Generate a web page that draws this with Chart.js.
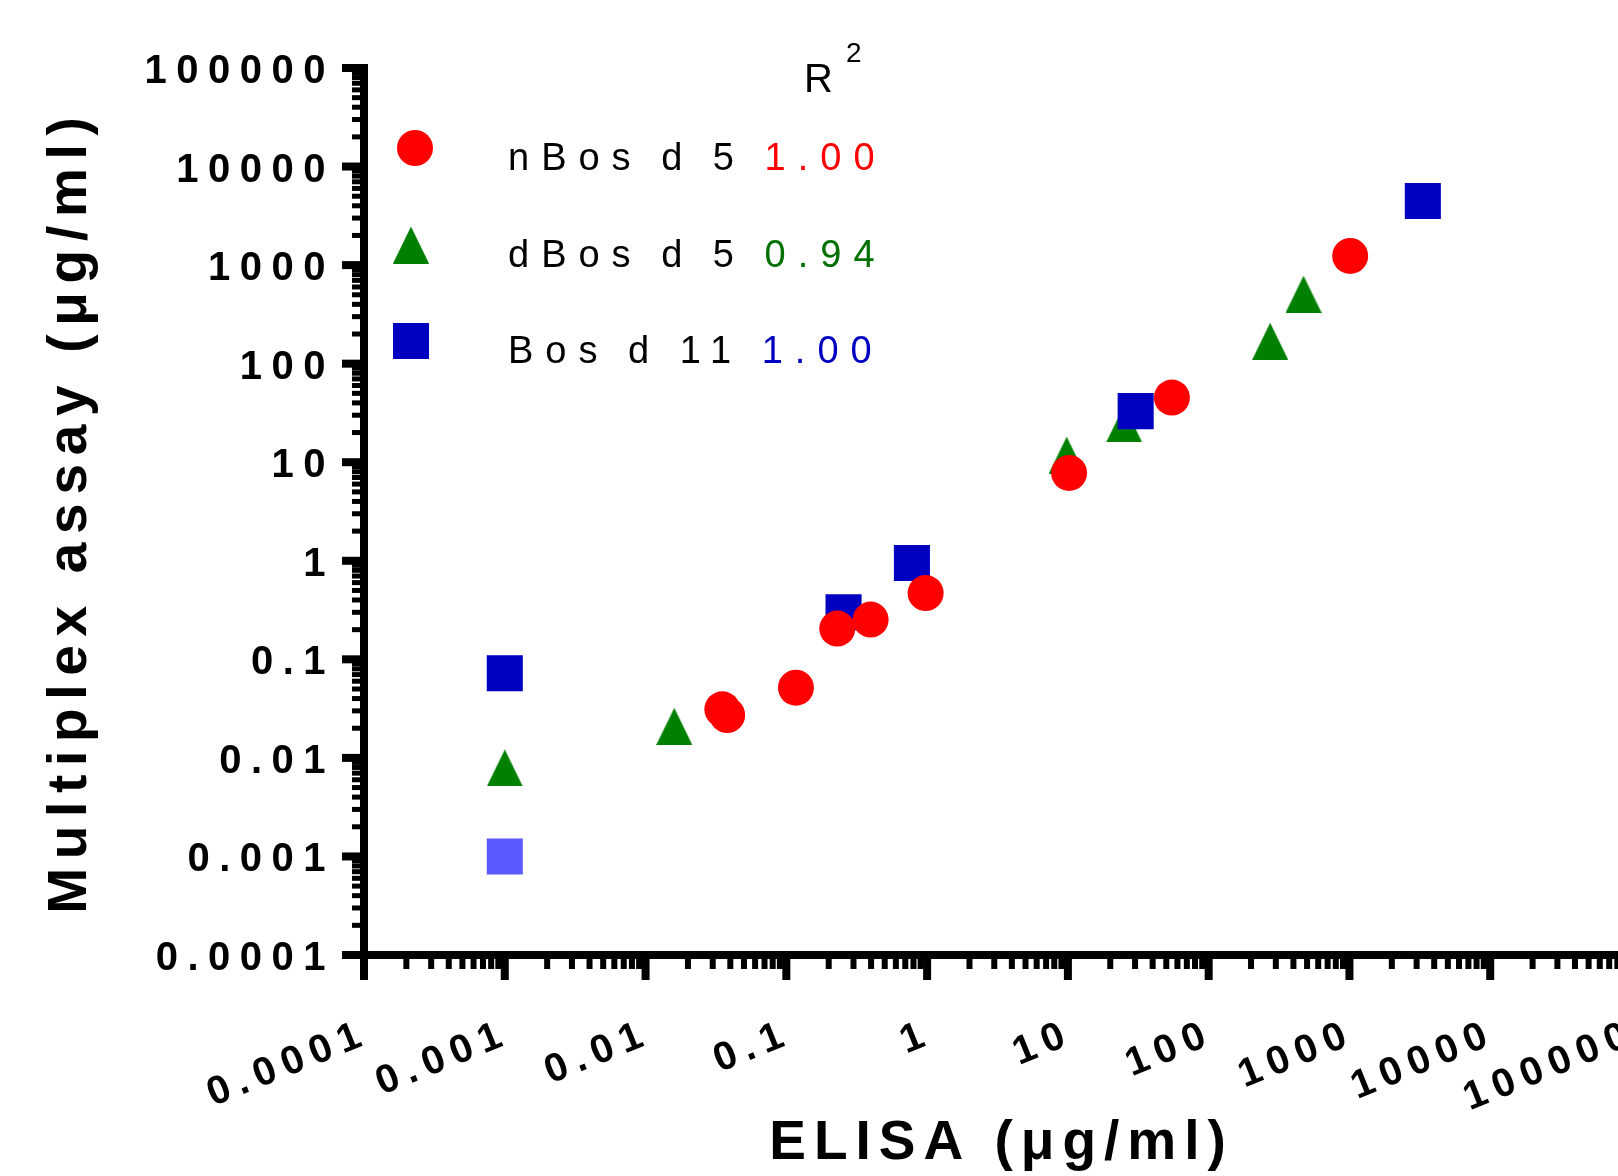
<!DOCTYPE html>
<html>
<head>
<meta charset="utf-8">
<script src="https://cdn.jsdelivr.net/npm/chart.js@4"></script>
<style>
html,body{margin:0;padding:0;background:#fff;overflow:hidden;width:1618px;height:1176px}
#wrap{position:absolute;left:0;top:0;width:1700px;height:1176px}
</style>
</head>
<body>
<div id="wrap"><canvas id="c"></canvas></div>
<script>
// ---- data ----
const seriesNames = ['nBos d 5', 'dBos d 5', 'Bos d 11'];
const r2Values = ['1.00', '0.94', '1.00'];
const nBosd5X = [0.0351, 0.0380, 0.117, 0.230, 0.397, 0.976, 10.2, 54.8, 1012];
const nBosd5Y = [0.0311, 0.0272, 0.0516, 0.205, 0.253, 0.470, 7.78, 45.3, 1239];
const dBosd5X = [0.001, 0.016, 9.8, 25.1, 273.5, 472];
const dBosd5Y = [0.0079, 0.0209, 11.8, 24.5, 169, 507];
const bosd11X = [0.001, 0.001, 0.255, 0.78, 30.3, 3321];
const bosd11Y = [0.001, 0.0722, 0.30, 0.95, 33.0, 4467];
const bosd11FaintIndex = 0;
const tickValues = [0.0001, 0.001, 0.01, 0.1, 1, 10, 100, 1000, 10000, 100000];
const tickLabels = ['0.0001', '0.001', '0.01', '0.1', '1', '10', '100', '1000', '10000', '100000'];
const xTitle = 'ELISA (μg/ml)';
const yTitle = 'Multiplex assay (μg/ml)';

// ---- styles ----
const FONT = '"Liberation Sans", Arial, Helvetica, sans-serif';
const RED = '#ff0000', GREEN = '#008000', BLUE = '#0000c0', LIGHTBLUE = '#5a5aff';
const R2COLORS = ['#ff0000', '#007000', '#0000c0'];
const LABEL_SPACING = { x: 8, y: 9.5 };

function pts(xs, ys) { return xs.map((v, i) => ({ x: v, y: ys[i] })); }

const tri = document.createElement('canvas');
tri.width = 36; tri.height = 37;
(function () {
  const t = tri.getContext('2d');
  t.fillStyle = GREEN;
  t.beginPath();
  t.moveTo(0, 37); t.lineTo(18, 0); t.lineTo(36, 37); t.closePath();
  t.fill();
})();

function spacedText(ctx, text, x, y, font, color, ls, align, ws) {
  ctx.save();
  ctx.font = font;
  ctx.fillStyle = color;
  ctx.letterSpacing = ls + 'px';
  ctx.wordSpacing = (ws || 0) + 'px';
  ctx.textAlign = 'left';
  ctx.textBaseline = 'alphabetic';
  const w = ctx.measureText(text).width;
  let sx = x;
  if (align === 'center') sx = x - (w - ls) / 2;
  ctx.fillText(text, sx, y);
  ctx.restore();
  return w;
}

const decorPlugin = {
  id: 'decor',
  afterLayout(chart) {
    ['x', 'y'].forEach((id) => {
      const s = chart.scales[id];
      if (s && !s.__spaced) {
        const orig = s.drawLabels.bind(s);
        s.drawLabels = function (ca) {
          const c = this.ctx;
          c.save();
          c.letterSpacing = LABEL_SPACING[id] + 'px';
          orig(ca);
          c.restore();
        };
        s.__spaced = true;
      }
    });
  },
  beforeDatasetsDraw(chart) {
    const { ctx, chartArea, scales } = chart;
    const xs = scales.x, ys = scales.y;
    ctx.save();
    ctx.fillStyle = '#000';
    for (let e = -4; e <= 5; e++) {
      for (let m = 1; m <= 9; m++) {
        if (e === 5 && m > 1) break;
        const v = m * Math.pow(10, e);
        const major = m === 1;
        const py = ys.getPixelForValue(v);
        const ly = major ? 18 : 8, ty = major ? 8 : 5;
        ctx.fillRect(chartArea.left - 4 - ly, py - ty / 2, ly, ty);
        const px = xs.getPixelForValue(v);
        const lx = major ? 21 : 10, tx = major ? 8 : 6;
        ctx.fillRect(px - tx / 2, chartArea.bottom + 4, tx, lx);
      }
    }
    ctx.restore();
  },
  afterDraw(chart) {
    const ctx = chart.ctx;
    const ca = chart.chartArea;
    // axis titles
    spacedText(ctx, xTitle, (ca.left + ca.right) / 2, 1159, 'bold 55px ' + FONT, '#000', 8, 'center');
    ctx.save();
    ctx.translate(86, (ca.top + ca.bottom) / 2 + 4);
    ctx.rotate(-Math.PI / 2);
    spacedText(ctx, yTitle, 0, 0, 'bold 55px ' + FONT, '#000', 8.7, 'center');
    ctx.restore();
    // legend header R^2
    spacedText(ctx, 'R', 804, 92, '40px ' + FONT, '#000', 0, 'left');
    spacedText(ctx, '2', 846, 62, '28px ' + FONT, '#000', 0, 'left');
    // legend rows
    const rowY = [170, 267, 363];
    const markY = [148, 245, 341];
    for (let i = 0; i < seriesNames.length; i++) {
      ctx.save();
      if (i === 0) {
        ctx.fillStyle = RED;
        ctx.beginPath(); ctx.arc(415, markY[i], 18, 0, Math.PI * 2); ctx.fill();
      } else if (i === 1) {
        ctx.drawImage(tri, 411 - tri.width / 2, markY[i] - tri.height / 2);
      } else {
        ctx.fillStyle = BLUE;
        ctx.fillRect(411 - 18, markY[i] - 18, 36, 36);
      }
      ctx.restore();
      const w = spacedText(ctx, seriesNames[i] + ' ', 508, rowY[i], '38px ' + FONT, '#000', 12, 'left', -4);
      spacedText(ctx, r2Values[i], 508 + w, rowY[i], '38px ' + FONT, R2COLORS[i], 12, 'left', -4);
    }
  }
};

const tickFont = { family: FONT, size: 40, weight: 'bold' };

new Chart(document.getElementById('c'), {
  type: 'scatter',
  data: {
    datasets: [
      { label: seriesNames[0], data: pts(nBosd5X, nBosd5Y), pointStyle: 'circle', pointRadius: 18,
        backgroundColor: RED, borderWidth: 0, order: 0 },
      { label: seriesNames[1], data: pts(dBosd5X, dBosd5Y), pointStyle: tri, pointRadius: 18,
        backgroundColor: GREEN, borderWidth: 0, order: 2 },
      { label: seriesNames[2], data: pts(bosd11X, bosd11Y), pointStyle: 'rect', pointRadius: 25.5,
        backgroundColor: (c) => c.dataIndex === bosd11FaintIndex ? LIGHTBLUE : BLUE, borderWidth: 0, order: 1 }
    ]
  },
  options: {
    responsive: true,
    maintainAspectRatio: false,
    animation: false,
    events: [],
    layout: { padding: { top: 68, right: 69, left: 0, bottom: 0 } },
    plugins: { legend: { display: false }, tooltip: { enabled: false } },
    scales: {
      x: {
        type: 'logarithmic', position: 'bottom', min: 0.0001, max: 100000,
        afterBuildTicks: (s) => { s.ticks = tickValues.map(v => ({ value: v })); },
        afterFit: (s) => { s.height = 221; s.paddingLeft = 0; s.paddingRight = 0; s.paddingTop = 0; s.paddingBottom = 0; },
        grid: { display: false, drawTicks: false },
        border: { display: true, width: 8, color: '#000' },
        ticks: { autoSkip: false, minRotation: 22, maxRotation: 22, padding: 55, labelOffset: 3, color: '#000', font: tickFont,
          callback: (v, i) => tickLabels[i] }
      },
      y: {
        type: 'logarithmic', position: 'left', min: 0.0001, max: 100000,
        afterBuildTicks: (s) => { s.ticks = tickValues.map(v => ({ value: v })); },
        afterFit: (s) => { s.width = 364; s.paddingLeft = 0; s.paddingRight = 0; s.paddingTop = 0; s.paddingBottom = 0; },
        grid: { display: false, drawTicks: false },
        border: { display: true, width: 8, color: '#000' },
        ticks: { autoSkip: false, padding: 29, labelOffset: 4, color: '#000', font: tickFont,
          callback: (v, i) => tickLabels[i] }
      }
    }
  },
  plugins: [decorPlugin]
});
</script>
</body>
</html>
